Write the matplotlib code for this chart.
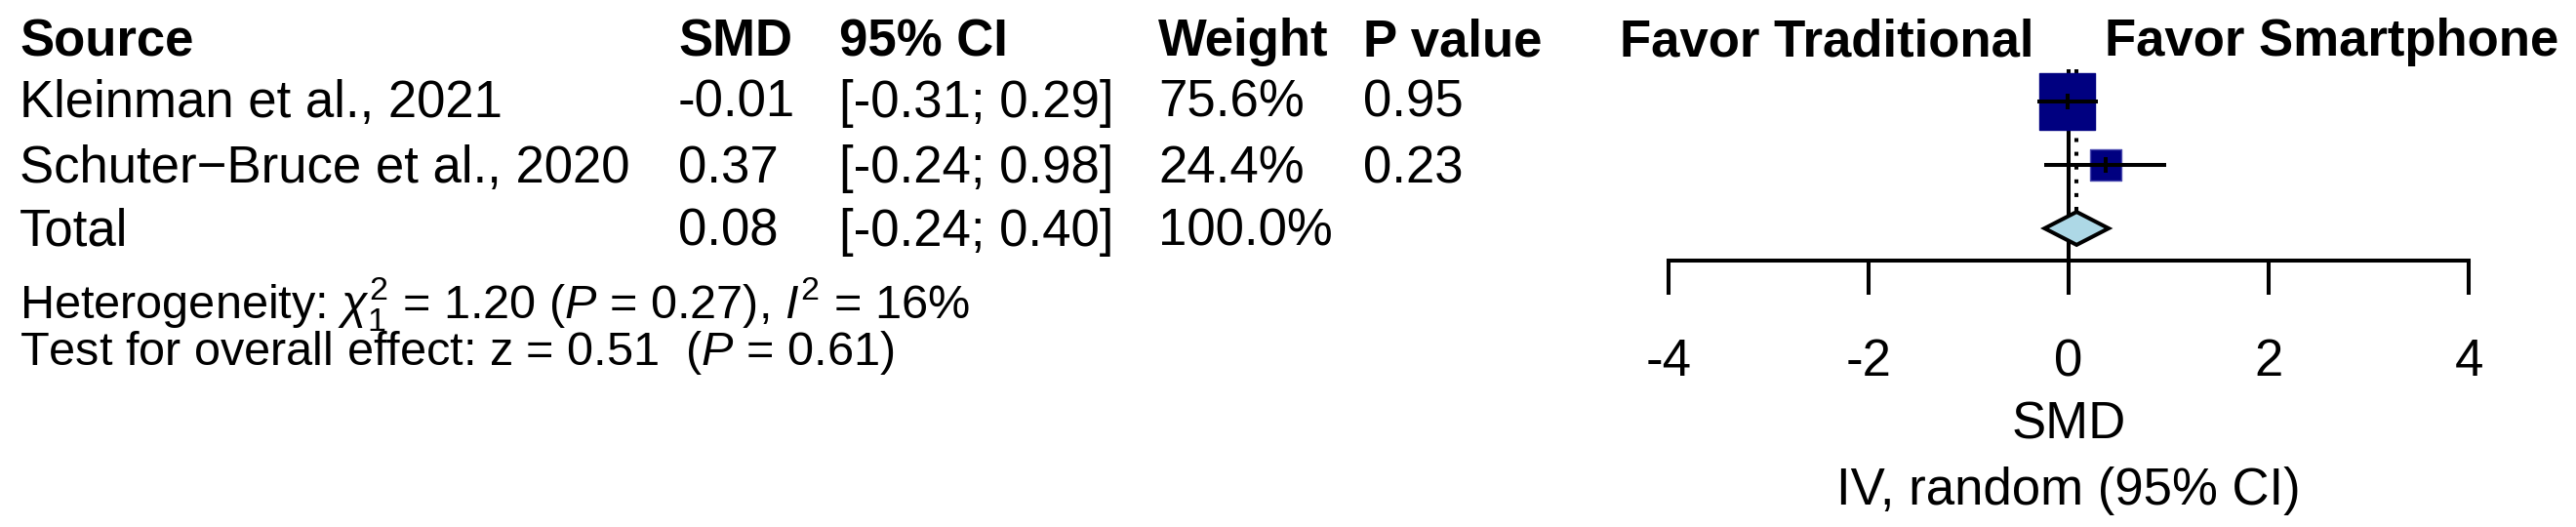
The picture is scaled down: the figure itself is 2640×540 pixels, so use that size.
import matplotlib
matplotlib.use("Agg")
import matplotlib.pyplot as plt

plt.rcParams['font.family'] = ['Liberation Sans', 'DejaVu Sans']
plt.rcParams['mathtext.fontset'] = 'custom'
plt.rcParams['mathtext.rm'] = 'Liberation Sans'
plt.rcParams['mathtext.it'] = 'Liberation Sans:italic'
plt.rcParams['mathtext.bf'] = 'Liberation Sans:bold'
plt.rcParams['axes.unicode_minus'] = False

# data
studies = ['Kleinman et al., 2021', 'Schuter\u2212Bruce et al., 2020']
smd = [-0.01, 0.37]
ci_low = [-0.31, -0.24]
ci_high = [0.29, 0.98]
weights = [75.6, 24.4]
p_values = ['0.95', '0.23']

total_smd = 0.08
total_low = -0.24
total_high = 0.40

headers = ['Source', 'SMD', '95% CI', 'Weight', 'P value']
xticks = [-4, -2, 0, 2, 4]
het_text = r'Heterogeneity: $\chi^2_1$ = 1.20 ($P$ = 0.27), $I^2$ = 16%'
test_text = r'Test for overall effect: z = 0.51  ($P$ = 0.61)'

FS = 38
FS_SMALL = 35
W, H = 2640, 540

fig = plt.figure(figsize=(W / 100, H / 100), dpi=100)

# background axes in pixel units for the table part
bg = fig.add_axes([0, 0, 1, 1])
bg.set_xlim(0, W)
bg.set_ylim(H, 0)
bg.axis('off')

col_x = [20, 695, 860, 1187, 1397]
head_y = 57
row_y = [120, 187, 252]

for x, h in zip(col_x, headers):
    bg.text(x, head_y, h, fontsize=FS, fontweight='bold', va='baseline')

rows = []
for i in range(len(studies)):
    rows.append([studies[i], '%.2f' % smd[i],
                 '[%.2f; %.2f]' % (ci_low[i], ci_high[i]),
                 '%.1f%%' % weights[i], p_values[i]])
rows.append(['Total', '%.2f' % total_smd,
             '[%.2f; %.2f]' % (total_low, total_high),
             '%.1f%%' % sum(weights), ''])

for y, r in zip(row_y, rows):
    for x, s in zip(col_x, r):
        bg.text(x, y, s, fontsize=FS, va='baseline')

bg.text(20, 326, het_text, fontsize=FS_SMALL, va='baseline')
bg.text(20, 374, test_text, fontsize=FS_SMALL, va='baseline')

bg.text(2085, head_y, 'Favor Traditional', fontsize=FS, fontweight='bold',
        va='baseline', ha='right')
bg.text(2157, head_y, 'Favor Smartphone', fontsize=FS, fontweight='bold',
        va='baseline', ha='left')
bg.text(2120, 450, 'SMD', fontsize=FS, va='baseline', ha='center')
bg.text(2120, 517, 'IV, random (95% CI)', fontsize=FS, va='baseline', ha='center')

# forest axes
ax_left, ax_right = 1710, 2530
ax_top, ax_bot = 40, 267
ax = fig.add_axes([ax_left / W, 1 - ax_bot / H, (ax_right - ax_left) / W,
                   (ax_bot - ax_top) / H])
ax.patch.set_alpha(0)


def row_of(p):
    return (p - 104) / 65 + 1


ax.set_xlim(-4, 4)
ax.set_ylim(row_of(ax_bot), row_of(ax_top))
for s in ['top', 'left', 'right']:
    ax.spines[s].set_visible(False)
ax.spines['bottom'].set_linewidth(2.9)
ax.set_yticks([])
ax.set_xticks(xticks)
ax.set_xticklabels([str(t) for t in xticks])
ax.tick_params(axis='x', direction='out', length=25, width=2.9,
               labelsize=FS, pad=32)

lw = 2.9
study_rows = [1, 2]
line_top = row_of(71)
ax.vlines(0, line_top, row_of(ax_bot), color='black', lw=lw, zorder=2)
ax.vlines(total_smd, line_top, 3 - 0.26, color='black', lw=lw,
          linestyle=(0, (1, 2.5)), zorder=2)

sizes = [22.3 * w for w in weights]
ax.scatter(smd, study_rows, s=sizes, marker='s', color='#000080',
           edgecolors=['#000080', '#4a4ab0'], linewidths=1, zorder=3)
ax.hlines(study_rows, ci_low, ci_high, color='black', lw=lw, zorder=4)
ax.plot(smd, study_rows, linestyle='none', marker='|', markersize=12,
        markeredgewidth=lw, color='black', zorder=5)

h = 0.26
ax.fill([total_low, total_smd, total_high, total_smd],
        [3, 3 - h, 3, 3 + h], facecolor='#ADD8E6', edgecolor='black',
        lw=lw, zorder=3, joinstyle='miter')

fig.savefig('out.png', dpi=100)
